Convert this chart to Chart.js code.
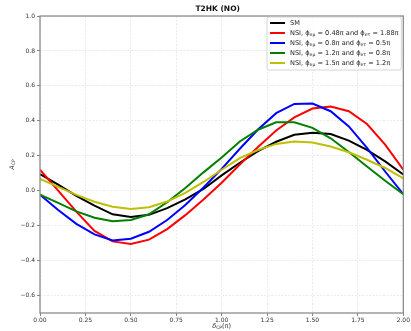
<!DOCTYPE html>
<html><head><meta charset="utf-8">
<script src="https://cdn.jsdelivr.net/npm/chart.js@4.4.0/dist/chart.umd.min.js"></script>
<style>html,body{margin:0;padding:0;background:#fff}#wrap{width:411px;height:331px;position:relative}</style>
</head><body><div id="wrap"><canvas id="c"></canvas></div>
<script>
// ---- data ----
const deltaCP = [0.0,0.1,0.2,0.3,0.4,0.5,0.6,0.7,0.8,0.9,1.0,1.1,1.2,1.3,1.4,1.5,1.6,1.7,1.8,1.9,2.0];
const smValues     = [0.095,0.035,-0.03,-0.085,-0.135,-0.15,-0.138,-0.10,-0.05,0.01,0.088,0.16,0.227,0.28,0.32,0.332,0.324,0.287,0.234,0.168,0.093];
const nsiRedValues = [0.12,0.0,-0.12,-0.23,-0.29,-0.305,-0.28,-0.22,-0.14,-0.05,0.046,0.15,0.25,0.345,0.42,0.47,0.482,0.455,0.382,0.264,0.12];
const nsiBlueValues= [-0.023,-0.11,-0.19,-0.25,-0.285,-0.275,-0.235,-0.168,-0.082,0.018,0.125,0.24,0.35,0.444,0.497,0.499,0.455,0.368,0.245,0.11,-0.02];
const nsiGreenValues=[-0.023,-0.07,-0.118,-0.155,-0.175,-0.168,-0.135,-0.066,0.015,0.105,0.19,0.282,0.349,0.392,0.392,0.36,0.30,0.222,0.139,0.057,-0.02];
const nsiYellowValues=[0.068,0.022,-0.024,-0.063,-0.092,-0.105,-0.095,-0.062,-0.013,0.05,0.12,0.186,0.233,0.268,0.281,0.276,0.253,0.22,0.177,0.13,0.07];
const xTicks = [0,0.25,0.5,0.75,1.0,1.25,1.5,1.75,2.0];
const yTicks = [-0.6,-0.4,-0.2,0.0,0.2,0.4,0.6,0.8,1.0];
const titleText = 'T2HK (NO)';
const legendLabels = [
  [['SM',0]],
  [['NSI, ϕ',0],['eμ',1],[' = 0.48π and ϕ',0],['eτ',1],[' = 1.88π',0]],
  [['NSI, ϕ',0],['eμ',1],[' = 0.8π and ϕ',0],['eτ',1],[' = 0.5π',0]],
  [['NSI, ϕ',0],['eμ',1],[' = 1.2π and ϕ',0],['eτ',1],[' = 0.8π',0]],
  [['NSI, ϕ',0],['eμ',1],[' = 1.5π and ϕ',0],['eτ',1],[' = 1.2π',0]]
];
const seriesColors = ['#000000','#ff0000','#0000ff','#008000','#bfbf00'];
const seriesValues = [smValues,nsiRedValues,nsiBlueValues,nsiGreenValues,nsiYellowValues];

const FONT = '"DejaVu Sans", sans-serif';
function fmtMinus(s){return s.replace('-', '\u2212');}

function drawRich(ctx, segs, x, y, size, italicFirst){
  let cx = x;
  segs.forEach(([t,sub],i)=>{
    const fs = sub ? size*0.7 : size;
    ctx.font = (italicFirst && i===0 ? 'italic ' : '') + fs + 'px ' + FONT;
    ctx.fillText(t, cx, sub ? y + size*0.3 : y);
    cx += ctx.measureText(t).width;
  });
  return cx - x;
}
function richWidth(ctx, segs, size, italicFirst){
  let w=0;
  segs.forEach(([t,sub],i)=>{
    const fs = sub ? size*0.7 : size;
    ctx.font = (italicFirst && i===0 ? 'italic ' : '') + fs + 'px ' + FONT;
    w += ctx.measureText(t).width;
  });
  return w;
}

const decor = {
  id:'decor',
  afterDraw(chart){
    const ctx = chart.ctx, a = chart.chartArea;
    ctx.save();
    // frame
    ctx.strokeStyle = '#8c8c8c'; ctx.lineWidth = 1.3;
    ctx.strokeRect(a.left, a.top, a.right-a.left, a.bottom-a.top);
    // title
    ctx.fillStyle = '#111';
    ctx.font = 'bold 7.5px ' + FONT;
    ctx.textAlign = 'center'; ctx.textBaseline = 'middle';
    ctx.fillText(titleText, (a.left+a.right)/2 - 4, 9);
    // axis labels
    ctx.textAlign = 'left'; ctx.textBaseline = 'middle';
    ctx.fillStyle = '#333';
    const xl = [['δ',0],['CP',1],['(π)',0]];
    const xw = richWidth(ctx, xl, 6.5, true);
    drawRich(ctx, xl, (a.left+a.right)/2 - xw/2, 326, 6.5, true);
    ctx.save();
    ctx.translate(12, (a.top+a.bottom)/2);
    ctx.rotate(-Math.PI/2);
    const yl = [['A',0],['CP',1]];
    const yw = richWidth(ctx, yl, 6.5, true);
    drawRich(ctx, yl, -yw/2, 0, 6.5, true);
    ctx.restore();
    // legend
    const bx = 267, by = 17, bw = a.right - 2 - bx, bh = 53;
    ctx.fillStyle = 'rgba(255,255,255,0.85)';
    ctx.strokeStyle = '#cccccc'; ctx.lineWidth = 0.8;
    ctx.beginPath();
    if (ctx.roundRect) ctx.roundRect(bx, by, bw, bh, 2); else ctx.rect(bx,by,bw,bh);
    ctx.fill(); ctx.stroke();
    legendLabels.forEach((segs,i)=>{
      const yy = 23 + i*10;
      ctx.strokeStyle = seriesColors[i]; ctx.lineWidth = 2;
      ctx.beginPath(); ctx.moveTo(270, yy); ctx.lineTo(285, yy); ctx.stroke();
      ctx.fillStyle = '#222';
      drawRich(ctx, segs, 290, yy, 6.6, false);
    });
    ctx.restore();
  }
};

const datasets = seriesValues.map((vals,i)=>({
  label: i===0 ? 'SM' : 'NSI ' + i,
  data: deltaCP.map((x,j)=>({x:x, y:vals[j]})),
  borderColor: seriesColors[i],
  backgroundColor: seriesColors[i],
  borderWidth: 2,
  pointRadius: 0,
  tension: 0,
  fill: false,
  order: seriesValues.length - 1 - i
}));

new Chart(document.getElementById('c'), {
  type: 'line',
  data: { datasets },
  options: {
    responsive: true, maintainAspectRatio: false, animation: false,
    devicePixelRatio: 1,
    layout: { padding: { top: 16, right: 7, left: 0, bottom: 0 } },
    plugins: { legend: { display: false }, tooltip: { enabled: false }, title: { display: false } },
    scales: {
      x: {
        type: 'linear', min: 0, max: 2,
        afterBuildTicks: s => { s.ticks = xTicks.map(v=>({value:v})); },
        afterFit: s => { s.height = 18; },
        grid: { color: '#e4e4e4', lineWidth: 0.8, tickLength: 3, tickColor: '#666', tickWidth: 0.8 },
        border: { display: false, dash: [2,1.5] },
        ticks: { font: { family: 'DejaVu Sans', size: 6 }, color: '#333', padding: 1, maxRotation: 0,
                 callback: v => fmtMinus(Number(v).toFixed(2)) }
      },
      y: {
        type: 'linear', min: -0.7, max: 1.0,
        afterBuildTicks: s => { s.ticks = yTicks.map(v=>({value:v})); },
        afterFit: s => { s.width = 40; },
        grid: { color: '#e4e4e4', lineWidth: 0.8, tickLength: 3, tickColor: '#666', tickWidth: 0.8 },
        border: { display: false, dash: [2,1.5] },
        ticks: { font: { family: 'DejaVu Sans', size: 6 }, color: '#333', padding: 2,
                 callback: v => fmtMinus(Number(v).toFixed(1)) }
      }
    }
  },
  plugins: [decor]
});
</script>
</body></html>
